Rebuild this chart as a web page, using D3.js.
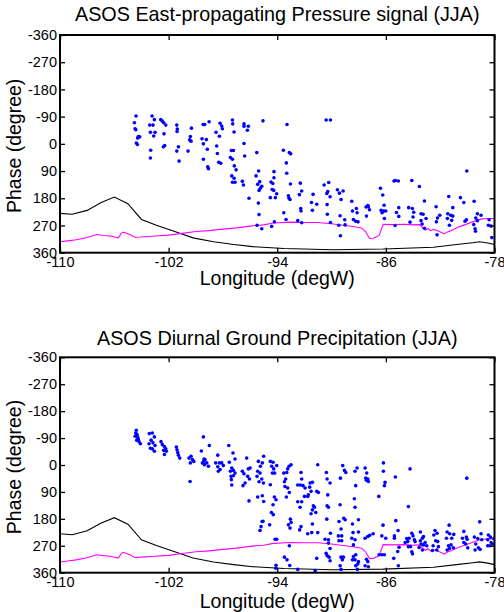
<!DOCTYPE html>
<html>
<head>
<meta charset="utf-8">
<script src="https://cdn.jsdelivr.net/npm/d3@7"></script>
<style>
  body { margin: 0; background: #fff; }
  svg { display: block; font-family: "Liberation Sans", Arial, sans-serif; }
</style>
</head>
<body>
<div id="chart"></div>
<script>
// ---- data (lon in degrees, phase in degrees) ----
const lonTicks = [-110, -102, -94, -86, -78];
const phaseTicks = [-360, -270, -180, -90, 0, 90, 180, 270, 360];

// black reference curve (same in both panels)
const blackLon   = [-110, -109.1, -108.0, -107.0, -106.0, -105.0, -104.0, -102.9, -101.6, -100.2, -98.7, -97.2, -95.8, -93.5, -89.9, -86.2, -82.5, -80.8, -79.6, -79.1, -78.5, -78.0];
const blackPhase = [230, 233, 220, 195, 176, 198, 250, 269, 289, 311, 324, 333, 340, 346, 350, 348, 342, 333, 327, 324, 328, 333];

// magenta reference curve (same in both panels)
const magentaLon   = [-110, -109.3, -108.8, -108.0, -107.3, -106.8, -106.3, -105.9, -105.7, -105.5, -105.34, -105.1, -104.85, -104.5, -104.0, -103.0, -102.0, -101.0, -100.0, -99.0, -98.0, -97.0, -96.0, -95.0, -94.3, -93.0, -92.0, -91.0, -90.0, -89.0, -88.2, -87.8, -87.5, -87.2, -86.9, -86.5, -86.2, -85.6, -84.6, -84.0, -83.5, -83.3, -83.1, -82.9, -82.7, -82.5, -82.3, -82.1, -81.9, -81.7, -81.5, -81.2, -80.7, -80.2, -79.6, -79.0, -78.5, -78.0];
const magentaPhase = [324, 320, 317, 310, 300, 303, 305, 309, 311, 296, 292, 296, 300, 309, 308, 305, 302, 296, 290, 287, 282, 278, 272, 268, 262, 259, 260, 260, 264, 270, 275, 278, 290, 313, 312, 303, 266, 267, 266, 268, 267, 278, 285, 280, 287, 283, 286, 289, 293, 298, 292, 287, 276, 268, 258, 249, 247, 247];

// station phases, east-propagating pressure signal
const pressurePts = [
  [-104.40,-92],[-104.52,-70],[-104.47,-50],[-104.42,-47],[-104.23,-24],[-104.13,-23],[-104.28,-19],[-104.38,-3],[-104.30,2],
  [-103.22,-92],[-103.05,-80],[-103.39,-62],[-103.15,-62],[-103.34,-38],[-103.00,-38],[-103.10,-26],[-103.32,21],[-103.34,47],
  [-102.58,-80],[-102.46,-75],[-102.36,-70],[-102.21,-62],[-102.34,-33],[-102.29,6],[-102.39,10],
  [-101.40,-62],[-101.36,-49],[-101.38,-41],[-101.28,10],[-101.40,24],[-101.23,57],
  [-100.32,-52],[-100.40,-24],[-100.45,-13],[-100.35,-9],[-100.57,24],
  [-99.02,-73],[-99.46,-64],[-99.34,-64],[-99.54,-17],[-99.22,-14],[-99.44,0],[-99.15,18],[-98.51,-38],[-98.26,-25],[-98.46,7],[-98.41,32],[-98.31,61],[-98.16,64],[-99.44,51],[-99.07,82],[-99.12,76],[-98.21,-68],[-98.09,-59],[-98.04,-50],
  [-97.30,-79],[-97.28,-66],[-97.18,-39],[-97.38,22],[-97.23,22],[-97.45,45],[-97.30,51],[-97.16,73],[-97.03,86],[-97.35,106],[-97.18,114],[-97.30,127],[-97.11,127],
  [-96.45,-66],[-96.13,-58],[-96.45,-58],[-96.20,-45],[-96.45,-1],[-96.40,40],[-96.57,124],[-96.49,136],[-96.08,180],
  [-95.05,-76],[-95.51,29],[-95.37,90],[-95.56,106],[-95.29,125],[-95.44,134],[-95.14,140],[-95.24,147],[-95.34,154],[-95.39,196],[-95.34,234],[-95.49,269],[-95.14,281],
  [-94.24,92],[-94.24,112],[-94.46,126],[-94.33,131],[-94.38,151],[-94.26,154],[-94.04,165],[-94.51,178],[-94.14,178],[-94.21,258],[-94.41,273],
  [-93.28,-64],[-93.55,21],[-93.11,29],[-93.01,33],[-93.33,63],[-93.30,97],[-93.03,133],[-93.18,172],[-93.13,180],[-93.06,184],[-93.52,228],[-93.35,250],
  [-92.30,130],[-92.20,156],[-92.37,168],[-92.27,214],[-92.25,222],[-92.49,254],[-92.20,261],
  [-90.40,-79],[-90.08,-79],[-91.36,167],[-91.48,194],[-91.41,220],[-91.09,200],[-90.55,136],[-90.21,128],[-90.28,158],[-90.35,164],[-90.11,175],[-90.33,201],[-90.31,233],[-90.08,260],
  [-89.57,152],[-89.42,163],[-89.15,156],[-89.30,184],[-89.37,238],[-89.47,269],[-89.03,251],[-89.00,268],[-89.35,304],
  [-88.51,190],[-88.46,222],[-88.17,214],[-88.12,228],[-88.39,250],[-88.22,256],[-88.05,258],
  [-87.46,209],[-87.33,204],[-87.29,208],[-87.21,218],[-87.43,239],
  [-86.40,147],[-86.23,169],[-86.13,203],[-86.35,220],[-86.16,222],[-86.01,222],[-86.28,228],[-86.11,247],
  [-85.40,123],[-85.30,121],[-85.08,123],[-85.22,227],[-85.05,211],[-85.05,240],[-85.32,270],
  [-84.09,121],[-83.53,141],[-84.32,211],[-84.05,214],[-83.95,226],[-84.00,242],[-84.22,259],
  [-83.16,189],[-83.41,231],[-83.26,233],[-83.04,247],[-83.41,254],[-83.33,265],[-83.16,279],
  [-82.30,208],[-82.03,236],[-82.20,245],[-82.28,258],[-82.23,301],
  [-81.37,174],[-81.07,211],[-81.44,231],[-81.22,236],[-81.07,239],[-81.47,247],[-81.15,253],[-81.32,269],
  [-80.51,178],[-80.26,194],[-80.04,90],[-79.50,190],[-79.26,231],[-78.99,236],[-79.38,245],[-79.26,254],[-79.53,267],[-79.43,281],[-80.07,251],[-80.17,256],[-79.40,289],
  [-78.40,251],[-78.45,269],[-78.25,272],[-78.20,310]
];

// station phases, diurnal ground precipitation
const precipPts = [
  [-104.38,-116],[-104.42,-107],[-104.33,-102],[-104.47,-96],[-104.28,-94],[-104.23,-87],[-104.35,-83],[-104.08,-71],[-104.18,-78],
  [-103.42,-105],[-103.20,-107],[-103.05,-94],[-103.29,-83],[-103.15,-74],[-103.44,-71],[-103.34,-56],[-103.00,-65],[-103.20,-54],[-103.05,-46],
  [-102.56,-78],[-102.46,-68],[-102.31,-62],[-102.36,-49],[-102.17,-46],[-102.31,-35],[-102.21,-54],
  [-101.43,-60],[-101.38,-51],[-101.33,-42],[-101.28,-33],[-101.18,-23],
  [-100.50,-23],[-100.35,-29],[-100.25,-18],[-100.40,-7],[-100.15,-12],[-100.42,55],
  [-99.44,-94],[-99.00,-65],[-99.59,-47],[-99.39,-20],[-99.32,-18],[-99.51,-7],[-99.19,-7],[-99.37,-1],[-99.07,4],[-99.42,-12],
  [-98.38,-33],[-98.53,-7],[-98.26,-7],[-98.09,-7],[-98.38,6],[-98.21,15],[-97.97,2],[-98.34,21],
  [-97.57,-65],[-97.26,-40],[-97.11,-20],[-97.53,-9],[-97.35,10],[-97.45,21],[-97.23,18],[-97.11,27],[-97.40,38],[-97.23,36],[-97.38,49],[-97.35,67],
  [-96.25,-23],[-96.57,21],[-96.45,29],[-96.13,13],[-96.00,10],[-96.18,38],[-96.05,47],[-96.37,60],[-96.52,69],[-96.08,120],
  [-95.00,-29],[-95.39,-12],[-95.10,-7],[-95.24,4],[-95.44,21],[-95.27,27],[-95.49,38],[-95.14,47],[-95.34,56],[-95.02,60],[-95.44,107],[-95.10,103],[-95.00,122],[-95.05,188],[-95.19,206],[-95.27,219],[-95.12,189],
  [-94.51,-12],[-94.31,-9],[-94.41,4],[-94.26,13],[-94.04,2],[-94.36,27],[-94.19,27],[-94.51,66],[-94.21,107],[-94.09,116],[-94.31,133],[-94.43,159],[-94.29,166],[-94.56,200],[-94.16,248],[-94.04,248],
  [-92.98,-1],[-93.13,4],[-93.23,13],[-93.30,25],[-93.52,27],[-93.38,47],[-93.47,56],[-93.43,72],[-93.23,77],[-93.33,107],[-93.11,92],[-93.03,181],[-92.98,192],[-93.18,200],[-93.06,211],[-93.11,270],[-93.47,308],[-93.28,317],[-93.08,336],[-92.49,349],[-94.09,335],[-94.11,345],
  [-92.25,25],[-92.20,47],[-92.49,67],[-92.30,67],[-92.10,69],[-91.95,77],[-91.71,100],[-92.20,123],[-92.49,123],[-92.32,141],[-92.00,105],[-92.25,206],[-92.35,217],[-91.76,230],
  [-91.02,-1],[-91.58,60],[-91.41,58],[-91.61,74],[-91.51,88],[-91.09,88],[-90.97,92],[-91.75,105],[-91.34,136],[-91.26,141],[-91.41,150],[-91.16,159],[-91.51,163],[-91.41,197],[-91.46,226],[-91.02,226],[-91.09,312],
  [-90.38,25],[-90.33,47],[-90.11,60],[-90.28,100],[-90.33,136],[-90.23,141],[-90.35,181],[-90.08,228],[-90.48,248],[-90.23,250],[-90.23,261],[-90.11,279],[-90.40,295],[-90.33,303],[-90.18,308],[-90.11,320],[-91.21,353],
  [-89.18,2],[-89.05,18],[-88.95,25],[-89.35,44],[-89.37,133],[-89.45,189],[-89.10,178],[-89.00,183],[-89.30,214],[-89.50,237],[-89.25,237],[-89.45,253],[-89.25,253],[-89.30,308],[-89.13,308],[-89.20,317],[-89.37,337],[-89.30,349],
  [-88.27,21],[-88.12,10],[-88.22,69],[-88.32,113],[-88.27,141],[-88.46,197],[-88.02,183],[-88.42,226],[-88.02,224],[-88.51,245],[-88.27,250],[-88.39,267],[-88.39,306],[-88.22,300],[-88.27,317],[-88.46,317],[-88.07,331],[-88.22,337],[-88.10,349],[-88.02,323],
  [-87.53,10],[-87.41,27],[-87.48,44],[-87.33,47],[-87.43,51],[-87.29,55],[-87.53,245],[-87.33,239],[-87.19,235],[-86.94,230],[-87.43,315],[-87.33,323],[-87.29,340],[-87.53,337],
  [-86.18,-7],[-86.18,21],[-86.06,58],[-86.11,69],[-86.52,105],[-86.21,201],[-86.30,237],[-86.01,245],[-86.50,300],[-86.30,300],[-86.11,300],[-85.42,312],[-85.08,337],
  [-85.30,40],[-85.27,186],[-85.37,237],[-85.37,245],[-85.10,219],[-85.03,275],[-85.13,289],[-84.58,259],
  [-84.22,13],[-84.34,139],[-84.46,246],[-84.29,245],[-84.39,256],[-84.09,228],[-84.00,237],[-83.90,250],[-84.19,273],[-84.09,290],[-84.04,297],[-83.85,256],[-84.34,273],
  [-83.46,224],[-83.31,245],[-83.46,253],[-83.41,264],[-83.23,239],[-83.55,276],[-83.23,267],[-83.11,259],[-82.99,270],[-83.31,284],
  [-82.38,219],[-82.23,228],[-82.47,234],[-82.33,253],[-82.18,256],[-82.52,270],[-82.13,273],[-82.25,284],[-82.57,286],
  [-81.34,201],[-81.49,224],[-81.30,230],[-81.00,232],[-81.54,245],[-81.15,245],[-81.39,270],[-81.20,267],[-81.32,279],[-81.03,277],[-81.49,284],
  [-80.26,222],[-80.07,241],[-80.02,248],[-80.36,245],[-80.26,259],[-79.97,277],[-80.12,264],
  [-80.04,44],[-79.09,190],[-78.99,230],[-79.23,246],[-79.48,241],[-79.38,264],[-79.19,277],[-79.43,284],[-79.06,282],[-78.94,250],
  [-78.45,234],[-78.30,241],[-78.50,250],[-78.25,259],[-78.35,270],[-78.15,264],[-78.50,270],[-78.05,246]
];

const titles = ['ASOS East-propagating Pressure signal (JJA)', 'ASOS Diurnal Ground Precipitation (JJA)'];

// ---- layout ----
const W = 504, H = 612;
const plotLeft = 60, plotRight = 494.5;
const panels = [
  { title: titles[0], pts: pressurePts, top: 35,    bottom: 252.7, titleY: 21,  xlabelY: 285 },
  { title: titles[1], pts: precipPts,   top: 357.3, bottom: 572.7, titleY: 345, xlabelY: 607.5 }
];

const svg = d3.select('#chart').append('svg')
  .attr('width', W).attr('height', H);

const blackLine = blackLon.map((d, i) => [d, blackPhase[i]]);
const magentaLine = magentaLon.map((d, i) => [d, magentaPhase[i]]);

const x = d3.scaleLinear().domain([-110, -78]).range([plotLeft, plotRight]);
const plainNum = (d) => String(d); // plain hyphen minus, like MATLAB

panels.forEach((p, idx) => {
  const y = d3.scaleLinear().domain([-360, 360]).range([p.top, p.bottom]);
  const g = svg.append('g');

  const clipId = 'clip' + idx;
  svg.append('clipPath').attr('id', clipId)
    .append('rect')
    .attr('x', plotLeft).attr('y', p.top)
    .attr('width', plotRight - plotLeft).attr('height', p.bottom - p.top);

  const plot = g.append('g').attr('clip-path', `url(#${clipId})`);

  const line = d3.line().x((d) => x(d[0])).y((d) => y(d[1]));

  plot.append('path').datum(blackLine)
    .attr('d', line).attr('fill', 'none')
    .attr('stroke', '#000').attr('stroke-width', 1.1);

  plot.append('path').datum(magentaLine)
    .attr('d', line).attr('fill', 'none')
    .attr('stroke', '#ff00ff').attr('stroke-width', 1.1);

  plot.selectAll('circle.pt').data(p.pts)
    .join('circle')
    .attr('class', 'pt')
    .attr('cx', (d) => x(d[0]))
    .attr('cy', (d) => y(d[1]))
    .attr('r', 1.8)
    .attr('fill', '#0000ff');

  // axes, MATLAB style: inward ticks on all four sides
  const left = g.append('g').attr('transform', `translate(${plotLeft},0)`)
    .call(d3.axisLeft(y).tickValues(phaseTicks).tickFormat(plainNum)
      .tickSizeInner(-5).tickSizeOuter(0).tickPadding(3));
  const bottom = g.append('g').attr('transform', `translate(0,${p.bottom})`)
    .call(d3.axisBottom(x).tickValues(lonTicks).tickFormat(plainNum)
      .tickSizeInner(-5).tickSizeOuter(0).tickPadding(4));
  const top = g.append('g').attr('transform', `translate(0,${p.top})`)
    .call(d3.axisTop(x).tickValues(lonTicks).tickFormat('')
      .tickSizeInner(-5).tickSizeOuter(0));
  const right = g.append('g').attr('transform', `translate(${plotRight},0)`)
    .call(d3.axisRight(y).tickValues(phaseTicks).tickFormat('')
      .tickSizeInner(-5).tickSizeOuter(0));

  [left, bottom, top, right].forEach((a) => {
    a.select('.domain').remove();
    a.selectAll('line').attr('stroke', '#000').attr('stroke-width', 1.3);
  });
  [left, bottom].forEach((a) => {
    a.selectAll('text')
      .attr('fill', '#000')
      .attr('font-size', 14.5)
      .attr('font-family', '"Liberation Sans", Arial, sans-serif');
  });

  g.append('rect')
    .attr('x', plotLeft).attr('y', p.top)
    .attr('width', plotRight - plotLeft).attr('height', p.bottom - p.top)
    .attr('fill', 'none').attr('stroke', '#000').attr('stroke-width', 2);

  // title
  g.append('text')
    .attr('x', (plotLeft + plotRight) / 2).attr('y', p.titleY)
    .attr('text-anchor', 'middle').attr('font-size', 19.8)
    .text(p.title);

  // x label
  g.append('text')
    .attr('x', (plotLeft + plotRight) / 2).attr('y', p.xlabelY)
    .attr('text-anchor', 'middle').attr('font-size', 19.5)
    .text('Longitude (degW)');

  // y label
  g.append('text')
    .attr('transform', `translate(21,${(p.top + p.bottom) / 2 + 2}) rotate(-90)`)
    .attr('text-anchor', 'middle').attr('font-size', 19.5)
    .text('Phase (degree)');
});
</script>
</body>
</html>
